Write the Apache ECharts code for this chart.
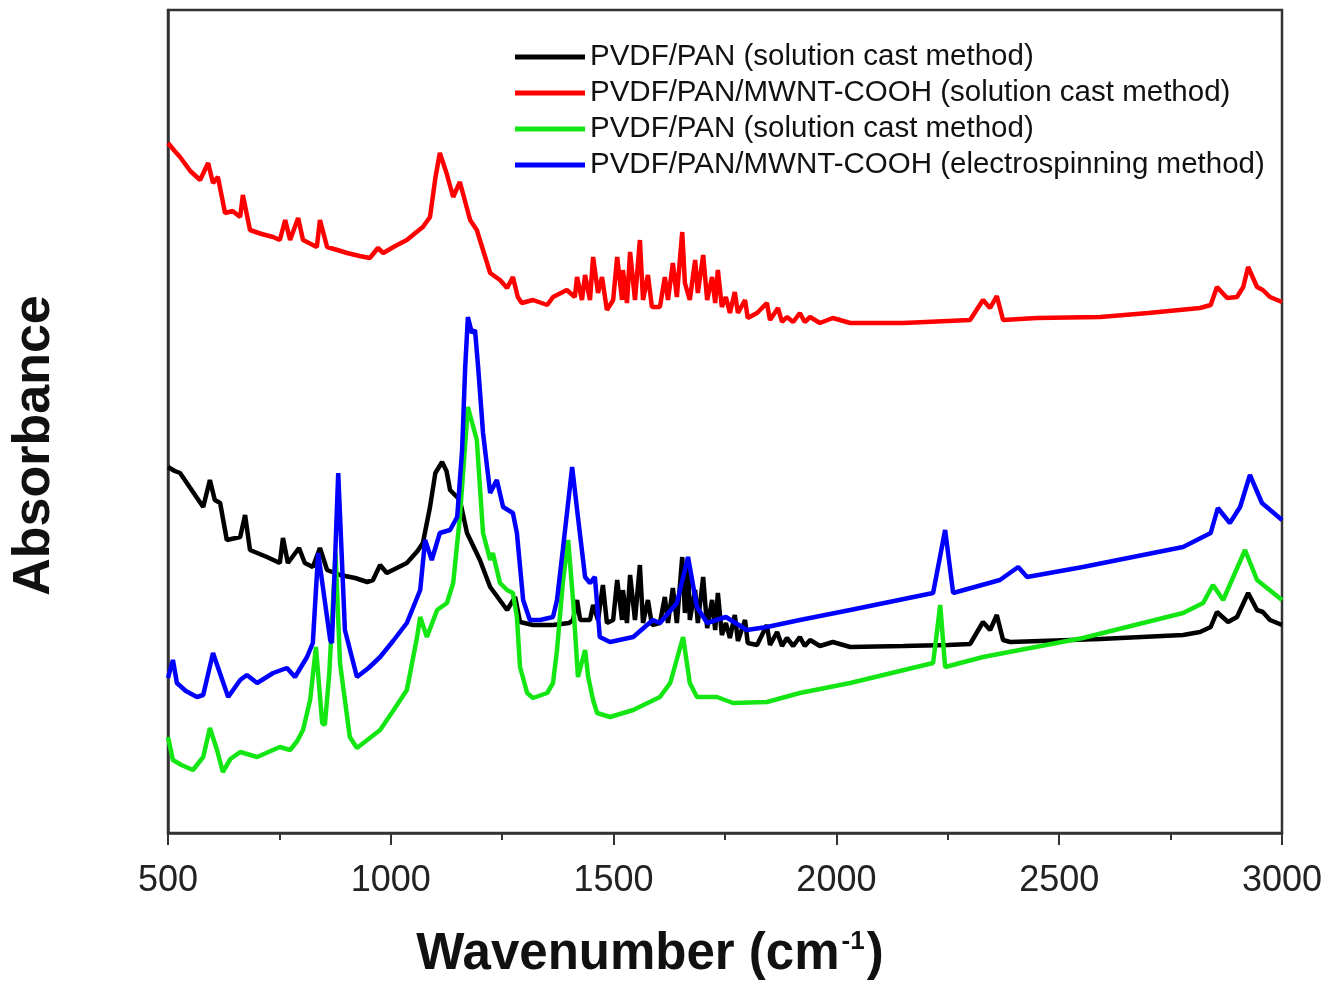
<!DOCTYPE html>
<html>
<head>
<meta charset="utf-8">
<script src="https://cdn.jsdelivr.net/npm/echarts@6/dist/echarts.min.js"></script>
<style>
html,body{margin:0;padding:0;background:#fff;}
#chart{width:1337px;height:984px;}
</style>
</head>
<body>
<div id="chart"></div>
<script>
// Legend labels (series order: black, red, green, blue)
const seriesKeys = ['s1', 's2', 's3', 's4'];
const seriesLabels = [
  'PVDF/PAN (solution cast method)',
  'PVDF/PAN/MWNT-COOH (solution cast method)',
  'PVDF/PAN (solution cast method)',
  'PVDF/PAN/MWNT-COOH (electrospinning method)'
];
const seriesColors = ['#000000', '#ff0000', '#14e614', '#0000ff'];
const xTicks = [500, 1000, 1500, 2000, 2500, 3000];

// [wavenumber (cm-1), absorbance (a.u.)]
const blackData = [[500,3.66],[515,3.62],[527,3.60],[550,3.45],[579,3.26],[594,3.53],[605,3.33],[617,3.30],[632,2.93],[662,2.96],[673,3.18],[684,2.83],[722,2.76],[751,2.70],[758,2.95],[769,2.70],[794,2.85],[807,2.70],[825,2.66],[841,2.85],[857,2.63],[886,2.58],[920,2.55],[947,2.51],[960,2.53],[976,2.68],[991,2.60],[1036,2.70],[1060,2.82],[1072,2.90],[1088,3.26],[1100,3.60],[1115,3.71],[1125,3.62],[1133,3.43],[1155,3.33],[1171,3.00],[1200,2.73],[1223,2.46],[1261,2.23],[1279,2.36],[1290,2.11],[1319,2.08],[1364,2.08],[1400,2.10],[1409,2.13],[1418,2.33],[1425,2.13],[1447,2.13],[1454,2.28],[1465,2.13],[1476,2.48],[1485,2.10],[1499,2.13],[1508,2.53],[1519,2.13],[1521,2.43],[1530,2.10],[1537,2.58],[1548,2.13],[1559,2.68],[1566,2.10],[1577,2.33],[1586,2.08],[1604,2.10],[1615,2.36],[1622,2.10],[1633,2.45],[1642,2.10],[1654,2.76],[1660,2.20],[1667,2.73],[1671,2.13],[1683,2.43],[1689,2.10],[1701,2.56],[1710,2.05],[1721,2.33],[1728,2.03],[1734,2.40],[1743,1.98],[1752,2.10],[1761,1.95],[1772,2.18],[1779,1.92],[1795,2.13],[1801,1.90],[1822,1.88],[1844,2.08],[1851,1.88],[1867,2.01],[1878,1.87],[1889,1.95],[1903,1.87],[1918,1.96],[1929,1.87],[1941,1.93],[1963,1.87],[1992,1.91],[2031,1.86],[2150,1.87],[2250,1.88],[2300,1.89],[2329,2.11],[2345,2.03],[2360,2.18],[2374,1.93],[2390,1.91],[2592,1.94],[2778,1.98],[2816,2.01],[2840,2.06],[2854,2.21],[2879,2.11],[2899,2.16],[2924,2.40],[2944,2.23],[2957,2.21],[2973,2.13],[3000,2.08]];

const redData = [[500,6.90],[515,6.82],[527,6.76],[550,6.62],[572,6.53],[590,6.70],[601,6.50],[612,6.56],[628,6.20],[645,6.22],[662,6.16],[668,6.38],[684,6.03],[710,5.99],[736,5.96],[751,5.93],[763,6.13],[774,5.93],[792,6.15],[803,5.93],[834,5.86],[841,6.13],[857,5.86],[880,5.83],[902,5.80],[930,5.77],[953,5.75],[971,5.85],[983,5.80],[1010,5.87],[1036,5.93],[1055,6.00],[1072,6.06],[1088,6.16],[1100,6.55],[1110,6.80],[1125,6.60],[1140,6.36],[1155,6.51],[1178,6.13],[1193,6.03],[1223,5.60],[1245,5.53],[1261,5.45],[1274,5.56],[1285,5.36],[1294,5.30],[1319,5.33],[1351,5.28],[1364,5.36],[1395,5.43],[1413,5.36],[1418,5.56],[1429,5.33],[1436,5.58],[1447,5.33],[1454,5.76],[1465,5.40],[1474,5.56],[1485,5.23],[1499,5.33],[1508,5.76],[1519,5.33],[1521,5.63],[1530,5.30],[1537,5.81],[1548,5.33],[1559,5.93],[1566,5.33],[1577,5.58],[1586,5.26],[1604,5.26],[1615,5.56],[1622,5.33],[1633,5.70],[1642,5.36],[1645,5.53],[1654,6.01],[1660,5.50],[1671,5.33],[1683,5.73],[1689,5.40],[1701,5.78],[1710,5.33],[1721,5.56],[1728,5.30],[1734,5.63],[1743,5.26],[1752,5.36],[1761,5.20],[1772,5.41],[1779,5.20],[1795,5.33],[1801,5.15],[1822,5.20],[1844,5.30],[1851,5.13],[1869,5.25],[1878,5.11],[1889,5.16],[1903,5.11],[1918,5.20],[1929,5.11],[1941,5.16],[1963,5.10],[1992,5.15],[2031,5.10],[2150,5.10],[2250,5.12],[2300,5.13],[2329,5.33],[2345,5.25],[2360,5.37],[2374,5.13],[2450,5.15],[2592,5.16],[2700,5.20],[2816,5.25],[2840,5.28],[2854,5.46],[2877,5.35],[2899,5.36],[2913,5.46],[2924,5.66],[2944,5.46],[2957,5.43],[2973,5.36],[3000,5.31]];

const greenData = [[500,0.96],[511,0.73],[530,0.68],[556,0.63],[579,0.76],[594,1.05],[610,0.83],[623,0.61],[640,0.74],[662,0.81],[700,0.76],[751,0.86],[774,0.83],[790,0.92],[803,1.03],[819,1.33],[832,1.86],[846,1.10],[852,1.08],[862,1.60],[876,2.80],[886,1.70],[908,0.96],[924,0.85],[950,0.94],[976,1.03],[1005,1.22],[1036,1.43],[1059,1.96],[1066,2.16],[1081,1.96],[1104,2.23],[1126,2.30],[1140,2.50],[1155,3.16],[1173,4.26],[1193,3.93],[1207,3.00],[1223,2.73],[1229,2.80],[1245,2.50],[1261,2.43],[1274,2.40],[1283,2.16],[1290,1.66],[1306,1.40],[1319,1.35],[1351,1.40],[1364,1.50],[1373,1.83],[1386,2.50],[1398,2.93],[1409,2.33],[1420,1.56],[1436,1.83],[1443,1.56],[1454,1.33],[1463,1.20],[1492,1.16],[1544,1.23],[1604,1.36],[1627,1.50],[1656,1.96],[1671,1.50],[1687,1.36],[1732,1.36],[1768,1.30],[1844,1.31],[1918,1.40],[2031,1.50],[2217,1.70],[2233,2.28],[2244,1.66],[2329,1.76],[2553,1.95],[2778,2.20],[2823,2.30],[2845,2.48],[2868,2.33],[2917,2.83],[2944,2.53],[3000,2.33]];

const blueData = [[500,1.55],[511,1.73],[520,1.50],[540,1.42],[565,1.36],[579,1.38],[601,1.80],[635,1.36],[662,1.53],[677,1.58],[700,1.50],[736,1.60],[767,1.65],[785,1.56],[812,1.76],[825,1.90],[837,2.80],[864,1.93],[868,1.90],[882,3.60],[897,2.03],[924,1.56],[950,1.65],[976,1.76],[1005,1.92],[1036,2.10],[1066,2.43],[1077,2.93],[1092,2.73],[1110,3.00],[1133,3.03],[1149,3.16],[1160,3.83],[1167,4.66],[1173,5.16],[1182,5.00],[1189,5.03],[1196,4.66],[1207,4.00],[1223,3.40],[1238,3.53],[1252,3.26],[1274,3.20],[1283,3.00],[1297,2.33],[1312,2.13],[1335,2.13],[1364,2.16],[1373,2.33],[1386,2.83],[1407,3.66],[1420,3.16],[1436,2.56],[1447,2.50],[1458,2.56],[1469,1.96],[1492,1.91],[1544,1.96],[1588,2.13],[1604,2.10],[1642,2.30],[1667,2.76],[1687,2.26],[1710,2.10],[1752,2.16],[1799,2.03],[1844,2.06],[1918,2.13],[2031,2.23],[2217,2.40],[2244,3.03],[2262,2.40],[2367,2.53],[2408,2.66],[2428,2.56],[2553,2.66],[2778,2.86],[2840,3.00],[2856,3.25],[2883,3.10],[2906,3.26],[2928,3.58],[2955,3.30],[3000,3.13]];

const allData = [blackData, redData, greenData, blueData];
const fontFam = "'Liberation Sans',Arial,sans-serif";

const chart = echarts.init(document.getElementById('chart'), null, {renderer: 'canvas'});
const labelMap = {};
seriesKeys.forEach((k, i) => labelMap[k] = seriesLabels[i]);

chart.setOption({
  animation: false,
  backgroundColor: '#ffffff',
  grid: {left: 168, right: 55, top: 10, bottom: 151, outerBoundsMode: 'none', containLabel: false, show: true, borderColor: '#333', borderWidth: 2.5, backgroundColor: 'transparent'},
  legend: {
    data: seriesKeys,
    orient: 'vertical',
    left: 515,
    top: 42,
    padding: 0,
    itemWidth: 70,
    itemHeight: 5,
    itemGap: 6,
    icon: 'rect',
    formatter: name => labelMap[name],
    textStyle: {fontFamily: fontFam, fontSize: 29.5, color: '#111', lineHeight: 30, padding: [0,0,0,0]}
  },
  xAxis: {
    type: 'value', min: 500, max: 3000, interval: 500,
    axisLine: {show: true, onZero: false, lineStyle: {color: '#333', width: 2.5}},
    axisTick: {show: true, inside: false, length: 12, lineStyle: {color: '#333', width: 2}},
    minorTick: {show: true, splitNumber: 2, length: 7, lineStyle: {color: '#333', width: 2}},
    splitLine: {show: false},
    axisLabel: {margin: 30, fontFamily: fontFam, fontSize: 36, color: '#222',
      formatter: v => xTicks.indexOf(v) >= 0 ? String(v) : ''},
    name: '{a|Wavenumber (cm}{s|-1}{a|)}',
    nameLocation: 'middle',
    nameGap: 96,
    nameTextStyle: {
      padding: [0, 150, 0, 0],
      rich: {
        a: {fontFamily: fontFam, fontSize: 51, fontWeight: 'bold', color: '#111'},
        s: {fontFamily: fontFam, fontSize: 26, fontWeight: 'bold', color: '#111', verticalAlign: 'top', padding: [0,2,24,2]}
      }
    }
  },
  yAxis: {
    type: 'value', min: 0, max: 8.23,
    axisLine: {show: true, lineStyle: {color: '#333', width: 2.5}},
    axisTick: {show: false},
    axisLabel: {show: false},
    splitLine: {show: false},
    name: 'Absorbance',
    nameLocation: 'middle',
    nameGap: 107,
    nameTextStyle: {fontFamily: fontFam, fontSize: 52, fontWeight: 'bold', color: '#111', padding: [0, 48, 0, 0]}
  },
  series: seriesKeys.map((k, i) => ({
    name: k,
    type: 'line',
    data: allData[i],
    showSymbol: false,
    symbol: 'none',
    lineStyle: {color: seriesColors[i], width: 4.5},
    itemStyle: {color: seriesColors[i]},
    z: 2 + i
  }))
});
</script>
</body>
</html>
